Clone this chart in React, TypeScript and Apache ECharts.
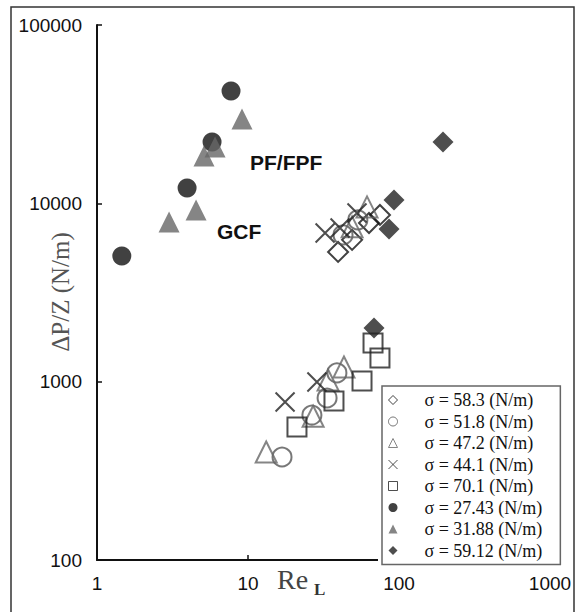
import React, { useEffect, useRef } from "react";
import * as echarts from "echarts";

// Re_L, ΔP/Z (N/m)
const sigma58_3: number[][] = [[39.5, 5340], [48.9, 6240], [63.3, 7760], [74.8, 8610]];
const sigma51_8: number[][] = [[42.6, 6650], [53.4, 8070], [16.8, 378], [26.5, 650], [33.4, 810], [38.8, 1119]];
const sigma47_2: number[][] = [[48.9, 7380], [61.4, 9550], [13.2, 403], [27.0, 640], [33.9, 1022], [43.2, 1209]];
const sigma44_1: number[][] = [[32.4, 6820], [40.7, 7280], [52.7, 8830], [17.6, 769], [28.6, 996]];
const sigma70_1: number[][] = [[21.1, 557], [37.1, 780], [56.9, 1009], [67.3, 1648], [74.8, 1358]];
const sigma27_43: number[][] = [[1.46, 5070], [3.95, 12200], [5.78, 22100], [7.72, 42700]];
const sigma31_88: number[][] = [[3.0, 7870], [4.53, 9180], [5.11, 18400], [6.05, 20700], [9.13, 29700]];
const sigma59_12: number[][] = [[195.6, 22100], [92.7, 10450], [85.9, 7180], [68.3, 2000]];

const seriesNames = [
  "σ = 58.3 (N/m)",
  "σ = 51.8 (N/m)",
  "σ = 47.2 (N/m)",
  "σ = 44.1 (N/m)",
  "σ = 70.1 (N/m)",
  "σ = 27.43 (N/m)",
  "σ = 31.88 (N/m)",
  "σ = 59.12 (N/m)",
];

const annotations = ["PF/FPF", "GCF"];
const yAxisTitle = "ΔP/Z (N/m)";
const xAxisTitle = ["Re", "L"];

const X_PATH = "path://M0,0L20,20M20,0L0,20";

export default function App() {
  const ref = useRef<HTMLDivElement>(null);
  useEffect(() => {
    if (!ref.current) return;
    const chart = echarts.init(ref.current, null, { renderer: "svg" });
    const open = (color: string, bw = 2) => ({ color: "transparent", borderColor: color, borderWidth: bw });
    const datasets = [sigma58_3, sigma51_8, sigma47_2, sigma44_1, sigma70_1, sigma27_43, sigma31_88, sigma59_12];
    const symbols = ["diamond", "circle", "triangle", X_PATH, "rect", "circle", "triangle", "diamond"];
    const sizes = [20, 19, 21, 19, 19, 19, 21, 21];
    const styles: any[] = [
      open("#111"),
      open("#555"),
      open("#666"),
      { color: "none", borderColor: "#222", borderWidth: 2 },
      open("#222"),
      { color: "#111" },
      { color: "#666" },
      { color: "#222" },
    ];
    const series = datasets.map((d, i) => ({
      name: seriesNames[i],
      type: "scatter",
      data: d,
      symbol: symbols[i],
      symbolSize: sizes[i],
      itemStyle: styles[i],
      z: i >= 5 ? 3 : 2,
    }));
    const fmt = (v: number) => String(Math.round(v));
    chart.setOption({
      animation: false,
      backgroundColor: "#fff",
      grid: { left: 97, top: 25, right: 31, bottom: 52, containLabel: false, outerBoundsMode: "none" },
      xAxis: {
        type: "log",
        logBase: 10,
        min: 1,
        max: 1000,
        splitLine: { show: false },
        minorTick: { show: false },
        axisLine: { lineStyle: { color: "#111", width: 2 } },
        axisTick: { inside: true, length: 5, lineStyle: { color: "#111", width: 1.5 } },
        axisLabel: { color: "#111", fontSize: 19, fontFamily: "Liberation Sans", margin: 14, formatter: fmt },
      },
      yAxis: {
        type: "log",
        logBase: 10,
        min: 100,
        max: 100000,
        splitLine: { show: false },
        axisLine: { show: true, lineStyle: { color: "#111", width: 2 } },
        axisTick: { show: true, inside: true, length: 5, lineStyle: { color: "#111", width: 1.5 } },
        axisLabel: { color: "#111", fontSize: 19, fontFamily: "Liberation Sans", margin: 15, formatter: fmt },
      },
      legend: {
        orient: "vertical",
        left: 382,
        top: 386,
        z: 20,
        backgroundColor: "#fff",
        borderColor: "#666",
        borderWidth: 1.5,
        borderRadius: 0,
        padding: [5, 18, 5, 4],
        itemGap: 3.5,
        itemWidth: 9,
        itemHeight: 9,
        itemStyle: { borderWidth: 1 },
        textStyle: { fontFamily: "Liberation Serif", fontSize: 18, color: "#111", lineHeight: 17, padding: [0, 0, 0, 22] },
        data: seriesNames,
      },
      graphic: [
        {
          type: "rect",
          z: 10,
          shape: { x: 11, y: 7, width: 563, height: 620 },
          style: { fill: "none", stroke: "#333", lineWidth: 1.5 },
        },
        {
          type: "rect",
          z: 10,
          shape: { x: 378, y: 555, width: 184, height: 10 },
          style: { fill: "#fff" },
        },
        {
          type: "text",
          z: 10,
          x: 60,
          y: 292,
          rotation: Math.PI / 2,
          style: { text: yAxisTitle, fontSize: 25, fontFamily: "Liberation Serif", fill: "#555", align: "center", verticalAlign: "middle" },
        },
        {
          type: "text",
          z: 10,
          x: 250,
          y: 162,
          style: { text: annotations[0], fontSize: 21, fontWeight: "bold", fontFamily: "Liberation Sans", fill: "#111", verticalAlign: "middle" },
        },
        {
          type: "text",
          z: 10,
          x: 217,
          y: 231,
          style: { text: annotations[1], fontSize: 21, fontWeight: "bold", fontFamily: "Liberation Sans", fill: "#111", verticalAlign: "middle" },
        },
        {
          type: "text",
          z: 10,
          x: 277,
          y: 593,
          style: { text: xAxisTitle[0], fontSize: 28, fontFamily: "Liberation Serif", fill: "#444", verticalAlign: "bottom" },
        },
        {
          type: "text",
          z: 10,
          x: 314,
          y: 598,
          style: { text: xAxisTitle[1], fontSize: 17, fontWeight: "bold", fontFamily: "Liberation Serif", fill: "#333", verticalAlign: "bottom" },
        },
      ],
      series,
    });
    return () => chart.dispose();
  }, []);
  return <div ref={ref} style={{ width: 581, height: 612, position: "absolute", left: 0, top: 0 }} />;
}
